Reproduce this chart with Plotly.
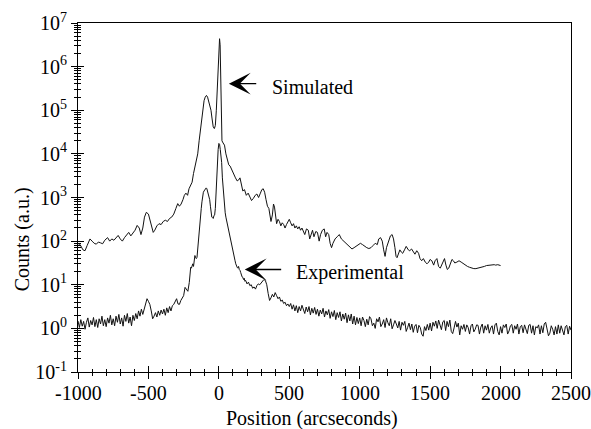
import numpy as np
import plotly.graph_objects as go

# ---------------- data ----------------
# Simulated curve: position (arcsec) and log10(counts)
sim_x = [-1000, -985, -965, -950, -935, -915, -900, -885, -870, -855, -840, -825, -810, -790, -775, -760,
         -745, -730, -715, -700, -685, -670, -655, -640, -625, -610, -595, -580, -565, -553, -540, -528,
         -515, -500, -490, -478, -466, -455, -440, -425, -410, -395, -380, -365, -350, -335, -320, -305,
         -292, -280, -268, -255, -245, -234, -222, -212, -200, -190, -180, -170, -160, -150, -140, -130,
         -120, -112, -105, -97, -88, -80, -72, -64, -56, -48, -40, -32, -25, -18, -12, -6,
         0, 5, 9, 13, 18, 22, 30, 40, 50, 60, 70, 80, 92, 105, 118, 130,
         140, 150, 160, 170, 182, 195, 208, 220, 232, 245, 258, 270, 282, 295, 305, 315,
         325, 335, 345, 355, 362, 370, 380, 388, 395, 402, 410, 420, 430, 440, 450, 460,
         470, 480, 490, 500, 510, 520, 530, 540, 550, 560, 570, 580, 590, 600, 610, 622,
         635, 645, 655, 665, 675, 688, 700, 712, 722, 735, 748, 758, 768, 780, 790, 800,
         810, 825, 840, 855, 870, 885, 900, 915, 930, 945, 960, 975, 990, 1005, 1020, 1035,
         1050, 1065, 1080, 1095, 1110, 1125, 1135, 1148, 1160, 1170, 1180, 1190, 1205, 1218, 1230, 1240,
         1250, 1258, 1265, 1275, 1285, 1295, 1305, 1318, 1330, 1345, 1355, 1368, 1380, 1392, 1405, 1418,
         1428, 1440, 1452, 1465, 1478, 1490, 1500, 1512, 1525, 1535, 1548, 1560, 1572, 1582, 1592, 1602,
         1612, 1622, 1632, 1645, 1655, 1665, 1675, 1690, 1705, 1720, 1735, 1750, 1765, 1780, 1795, 1810,
         1825, 1840, 1855, 1870, 1885, 1900, 1915, 1930, 1945, 1955, 1965, 1980, 2000]
sim_log10 = [1.90, 1.92, 1.80, 1.78, 1.90, 2.05, 2.00, 1.95, 1.93, 1.98, 1.96, 1.94, 2.02, 2.08, 2.00, 2.05,
             2.02, 2.08, 2.13, 2.05, 2.00, 2.08, 2.15, 2.20, 2.12, 2.18, 2.25, 2.36, 2.30, 2.15, 2.30, 2.55,
             2.66, 2.62, 2.50, 2.30, 2.20, 2.25, 2.35, 2.40, 2.38, 2.45, 2.48, 2.45, 2.52, 2.55, 2.62, 2.75,
             2.86, 2.80, 2.85, 2.95, 3.05, 3.10, 3.05, 3.20, 3.30, 3.35, 3.55, 3.70, 3.85, 4.00, 4.30, 4.55,
             4.85, 5.10, 5.22, 5.30, 5.34, 5.30, 5.20, 5.15, 5.00, 4.80, 4.62, 4.58, 4.65, 5.00, 5.40, 5.70,
             6.10, 6.64, 6.50, 5.60, 4.80, 4.30, 4.25, 4.20, 4.00, 3.90, 3.75, 3.72, 3.62, 3.55, 3.45, 3.38,
             3.40, 3.45, 3.25, 3.15, 3.18, 3.05, 3.10, 3.00, 2.93, 2.98, 3.05, 3.08, 3.00, 3.10, 3.18, 3.20,
             3.12, 2.95, 2.80, 2.75, 2.55, 2.45, 2.60, 2.85, 2.78, 2.55, 2.40, 2.50, 2.45, 2.35, 2.42, 2.38,
             2.30, 2.38, 2.45, 2.50, 2.42, 2.35, 2.40, 2.30, 2.35, 2.28, 2.33, 2.25, 2.30, 2.22, 2.15, 2.28,
             2.25, 2.05, 2.18, 2.25, 2.10, 2.22, 2.20, 2.00, 2.15, 2.25, 2.28, 2.10, 2.20, 2.15, 1.95, 1.85,
             1.95, 2.05, 2.10, 2.15, 2.05, 2.00, 1.95, 1.90, 1.85, 1.82, 1.85, 1.88, 1.92, 1.95, 1.92, 1.88,
             1.85, 1.83, 1.85, 1.90, 1.95, 1.92, 2.05, 2.08, 2.00, 1.80, 1.65, 1.85, 2.00, 2.12, 2.15, 2.05,
             1.85, 1.65, 1.62, 1.70, 1.80, 1.75, 1.72, 1.80, 1.88, 1.80, 1.78, 1.82, 1.75, 1.70, 1.78, 1.72,
             1.60, 1.55, 1.60, 1.52, 1.48, 1.52, 1.58, 1.55, 1.45, 1.55, 1.60, 1.42, 1.38, 1.45, 1.55, 1.60,
             1.45, 1.35, 1.38, 1.50, 1.58, 1.55, 1.50, 1.52, 1.55, 1.52, 1.48, 1.45, 1.42, 1.40, 1.38, 1.37,
             1.37, 1.38, 1.40, 1.41, 1.42, 1.44, 1.45, 1.45, 1.47, 1.46, 1.45, 1.46, 1.44]

# Experimental curve: log10(counts) on three sampling segments
exp_x_left = list(range(-1000, -205, 10))
exp_log10_left = [0.17, 0.02, 0.20, 0.05, 0.16, -0.02, 0.14, 0.24, 0.03, 0.18,
                  0.08, 0.25, 0.04, 0.20, 0.02, 0.22, 0.10, 0.28, 0.06, 0.20,
                  0.04, 0.24, 0.12, 0.30, 0.08, 0.22, 0.06, 0.28, 0.14, 0.32,
                  0.10, 0.24, 0.05, 0.30, 0.16, 0.34, 0.12, 0.26, 0.06, 0.30,
                  0.18,
                  0.34, 0.22, 0.40, 0.28, 0.44, 0.32, 0.46, 0.58, 0.68, 0.62,
                  0.55, 0.40, 0.22, 0.28, 0.36, 0.26, 0.40, 0.30, 0.42, 0.33,
                  0.44, 0.30, 0.47, 0.36, 0.50, 0.40, 0.52, 0.55, 0.64, 0.68,
                  0.56, 0.55, 0.64, 0.70, 0.75, 0.94, 0.90, 0.85, 1.05]
exp_x_mid = list(range(-200, 200, 5))
exp_log10_mid = [1.40, 1.38, 1.45, 1.48, 1.42, 1.60, 1.67, 1.62, 1.60, 1.63,
                 1.85, 2.10, 2.25, 2.40, 2.60, 2.75, 2.90, 3.05, 3.12, 3.15,
                 3.18, 3.20, 3.22, 3.20, 3.15, 3.10, 3.05, 2.95, 2.80, 2.65,
                 2.55, 2.54, 2.52, 2.58, 2.60, 2.75, 3.20, 3.55, 3.85, 4.10,
                 4.24, 4.22, 4.10, 3.95, 3.80, 3.45, 3.20, 3.00, 2.80, 2.65,
                 2.55, 2.47, 2.38, 2.30, 2.22, 2.15, 2.08, 2.00, 1.90, 1.80,
                 1.71, 1.65, 1.60, 1.55, 1.48, 1.42, 1.40, 1.38, 1.42, 1.35,
                 1.33, 1.28, 1.22, 1.18, 1.17, 1.12, 1.15, 1.08, 1.10, 1.05]
exp_x_right = list(range(200, 2501, 10))
exp_log10_right = [1.02, 1.06, 0.98, 1.00, 0.92, 0.95, 0.90, 0.98, 1.02, 1.00,
                   1.05, 1.08, 1.12, 1.10, 1.00, 0.80, 0.64, 0.70, 0.78, 0.72,
                   0.82, 0.75, 0.68, 0.72, 0.62, 0.65, 0.57, 0.60, 0.52, 0.56,
                   0.50,
                   0.57, 0.44, 0.54, 0.40, 0.52, 0.36, 0.50, 0.40, 0.53, 0.44,
                   0.34, 0.49, 0.38, 0.50, 0.31, 0.46, 0.35, 0.48, 0.32, 0.44,
                   0.28, 0.42, 0.33, 0.46, 0.26, 0.40, 0.31, 0.43, 0.23, 0.38,
                   0.27, 0.41, 0.20, 0.36, 0.25, 0.38, 0.17, 0.33, 0.21, 0.35,
                   0.13, 0.31, 0.17, 0.33, 0.10, 0.28, 0.08, 0.25, 0.11, 0.24,
                   0.06, 0.26, 0.18, 0.04, 0.21, 0.08, 0.27, 0.22, 0.06, 0.12,
                   0.00, 0.22, 0.15, 0.26, 0.04, 0.10, 0.20, 0.02, 0.24, 0.13,
                   0.06, 0.22, -0.01, 0.08, 0.18, 0.10, 0.01, 0.16, -0.04, 0.14,
                   0.07, 0.16, -0.07, 0.02, 0.12, -0.03, 0.10, -0.09, 0.05, 0.09,
                   -0.10, 0.07, 0.02, -0.13, -0.18, 0.04, -0.05, 0.09, -0.04, 0.12,
                   -0.06, 0.14, 0.05, 0.17, 0.00, 0.19, 0.08, -0.03, 0.15, 0.18,
                   -0.05, 0.16, 0.04, 0.19, -0.07, -0.12, 0.01, 0.16, 0.03, 0.12,
                   -0.15, 0.06, -0.02, 0.09, -0.07, 0.08, 0.02, -0.13, 0.06, 0.10,
                   -0.08, -0.02, 0.08, 0.07, -0.13, 0.03, 0.10, -0.11, 0.06, -0.04,
                   0.09, -0.11, 0.01, 0.06, -0.13, 0.08, 0.12, -0.07, -0.15, 0.04,
                   -0.11, 0.08, 0.02, 0.10, -0.13, -0.06, 0.06, 0.09, -0.11, 0.06,
                   -0.02, 0.10, -0.13, 0.04, 0.07, -0.10, 0.08, -0.03, -0.12, 0.07,
                   0.09, -0.11, 0.06, -0.15, 0.04, 0.01, 0.08, -0.13, 0.06, -0.10,
                   0.10, 0.14, -0.07, -0.17, -0.11, 0.06, -0.02, -0.15, 0.04, -0.13,
                   0.08, -0.11, 0.06, -0.05, -0.15, 0.04, 0.07, -0.13, 0.05, -0.04]

assert len(sim_x) == len(sim_log10), (len(sim_x), len(sim_log10))
assert len(exp_x_left) == len(exp_log10_left), (len(exp_x_left), len(exp_log10_left))
assert len(exp_x_mid) == len(exp_log10_mid), (len(exp_x_mid), len(exp_log10_mid))
assert len(exp_x_right) == len(exp_log10_right), (len(exp_x_right), len(exp_log10_right))

exp_x = exp_x_left + exp_x_mid + exp_x_right
exp_counts = np.power(10.0, exp_log10_left + exp_log10_mid + exp_log10_right)
sim_counts = np.power(10.0, sim_log10)

# ticks
x_tick_vals = [-1000, -500, 0, 500, 1000, 1500, 2000, 2500]
x_tick_text = ["-1000", "-500", "0", "500", "1000", "1500", "2000", "2500"]
y_exponents = [-1, 0, 1, 2, 3, 4, 5, 6, 7]
y_tick_vals = [10.0 ** e for e in y_exponents]
y_tick_text = ["10<sup>%d</sup>" % e for e in y_exponents]
y_minor_vals = [k * 10.0 ** e for e in y_exponents[:-1] for k in range(2, 10)]

FONT = "'Liberation Serif', 'Times New Roman', Times, 'DejaVu Serif', serif"
LINE = "#111111"
TXT = dict(family=FONT, size=20, color="black")

fig = go.Figure()
fig.add_trace(go.Scatter(x=exp_x, y=exp_counts, mode="lines",
                         line=dict(color=LINE, width=1), xaxis="x", yaxis="y",
                         name="Experimental", hoverinfo="skip"))
fig.add_trace(go.Scatter(x=sim_x, y=sim_counts, mode="lines",
                         line=dict(color=LINE, width=1), xaxis="x2", yaxis="y2",
                         name="Simulated", hoverinfo="skip"))

common_x = dict(range=[-1000, 2500], tickmode="array", tickvals=x_tick_vals,
                ticklen=6, tickwidth=1, tickcolor="black", showgrid=False,
                zeroline=False, automargin=False)
common_y = dict(type="log", range=[-1, 7], tickmode="array", tickvals=y_tick_vals,
                ticklen=6, tickwidth=1, tickcolor="black", showgrid=False,
                zeroline=False, automargin=False)

fig.update_layout(
    width=591, height=429,
    margin=dict(l=78, r=20, t=23, b=57, pad=0),
    paper_bgcolor="white", plot_bgcolor="white",
    showlegend=False,
    font=TXT,
    xaxis=dict(**common_x, ticks="outside", showticklabels=False,
               showline=True, linecolor="black", linewidth=1, mirror=True,
               minor=dict(tickmode="linear", tick0=-1000, dtick=100, ticks="outside",
                          ticklen=3, tickwidth=1, tickcolor="black", showgrid=False)),
    yaxis=dict(**common_y, ticktext=y_tick_text, ticks="outside",
               showline=True, linecolor="black", linewidth=1, mirror=True,
               tickfont=TXT,
               minor=dict(tickmode="array", tickvals=y_minor_vals, ticks="outside",
                          ticklen=3, tickwidth=1, tickcolor="black", showgrid=False)),
    xaxis2=dict(**common_x, overlaying="x", anchor="y2", side="bottom", ticks="inside",
                showticklabels=False, showline=False,
                minor=dict(tickmode="linear", tick0=-1000, dtick=100, ticks="inside",
                           ticklen=3, tickwidth=1, tickcolor="black", showgrid=False)),
    yaxis2=dict(**common_y, overlaying="y", anchor="x2", side="left", ticks="inside",
                showticklabels=False, showline=False,
                minor=dict(tickmode="array", tickvals=y_minor_vals, ticks="inside",
                           ticklen=3, tickwidth=1, tickcolor="black", showgrid=False)),
)

# x tick labels placed just under the axis
for xv, xt in zip(x_tick_vals, x_tick_text):
    fig.add_annotation(xref="x", yref="paper", x=xv, y=-0.059, text=xt, showarrow=False,
                       xanchor="center", yanchor="middle", font=TXT)

arrow = dict(xref="x", yref="y", axref="x", ayref="y", text="", showarrow=True,
             arrowhead=3, arrowsize=2.6, arrowwidth=1.4, arrowcolor="black", standoff=0,
             startstandoff=0)
fig.add_annotation(**arrow, x=71, y=5.61, ax=276, ay=5.61)
fig.add_annotation(**arrow, x=184, y=1.35, ax=453, ay=1.35)

fig.add_annotation(xref="x", yref="y", x=361, y=5.53, text="Simulated", showarrow=False,
                   xanchor="left", yanchor="middle", font=TXT)
fig.add_annotation(xref="x", yref="y", x=531, y=1.27, text="Experimental", showarrow=False,
                   xanchor="left", yanchor="middle", font=TXT)

fig.add_annotation(xref="paper", yref="paper", x=-0.113, y=0.381, text="Counts (a.u.)",
                   textangle=-90, showarrow=False, xanchor="center", yanchor="middle",
                   font=TXT)
fig.add_annotation(xref="paper", yref="paper", x=0.4747, y=-0.132, text="Position (arcseconds)",
                   showarrow=False, xanchor="center", yanchor="middle",
                   font=TXT)

fig.write_html("out.html")
